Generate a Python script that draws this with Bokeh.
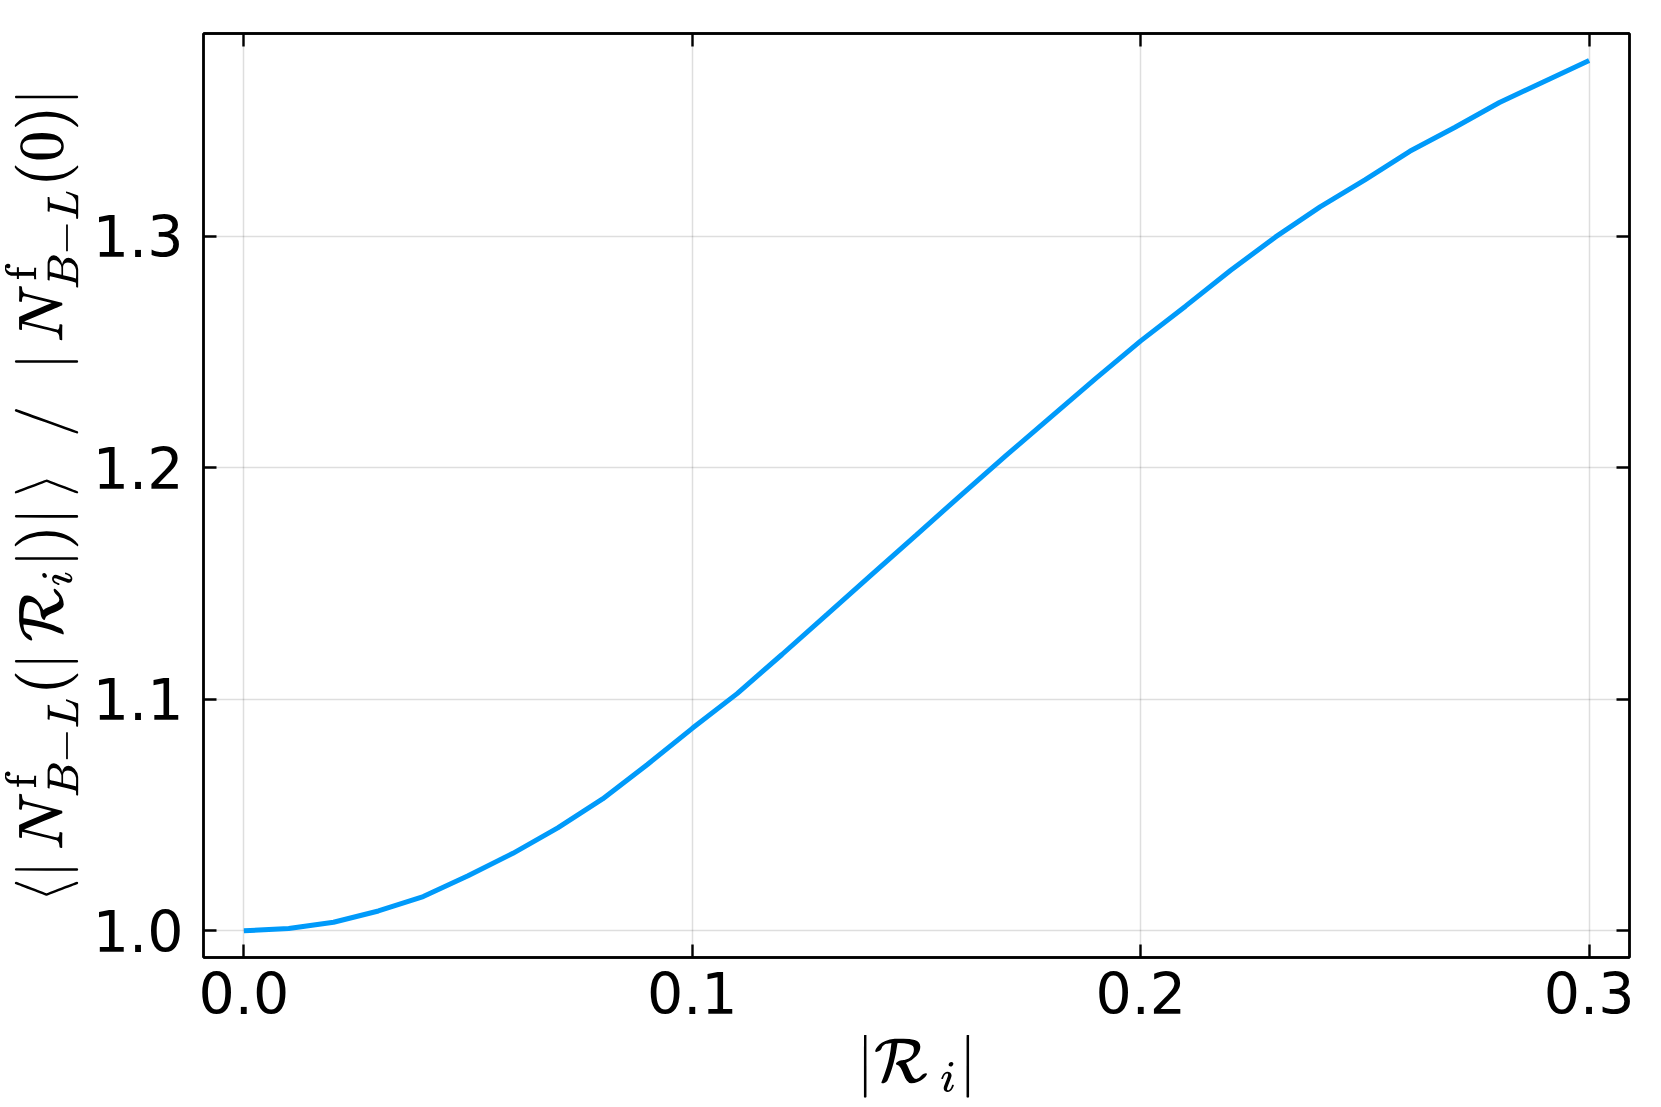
from bokeh.plotting import figure
from bokeh.models import LinearAxis, FixedTicker, CustomJSTickFormatter, NumeralTickFormatter, Range1d
from bokeh.embed import file_html
from bokeh.resources import INLINE

# data
r_abs = [0.00, 0.01, 0.02, 0.03, 0.04, 0.05, 0.06, 0.07, 0.08, 0.09, 0.10,
         0.11, 0.12, 0.13, 0.14, 0.15, 0.16, 0.17, 0.18, 0.19, 0.20,
         0.21, 0.22, 0.23, 0.24, 0.25, 0.26, 0.27, 0.28, 0.29, 0.30]
ratio = [1.0000, 1.0010, 1.0037, 1.0086, 1.0148, 1.0238, 1.0335, 1.0445, 1.0570, 1.0719, 1.0875,
         1.1025, 1.1194, 1.1366, 1.1539, 1.1711, 1.1884, 1.2054, 1.2221, 1.2387, 1.2549,
         1.2699, 1.2853, 1.2997, 1.3128, 1.3245, 1.3368, 1.3471, 1.3579, 1.3670, 1.3760]
x_ticks = [0.0, 0.1, 0.2, 0.3]
y_ticks = [1.0, 1.1, 1.2, 1.3]
x_label = r"$$|\mathcal{R}_{\,i}|$$"
y_label = r"$$\langle |\, N^{\mathrm{f}}_{B-L}(|\, \mathcal{R}_i|)|\, \rangle \;\;/\;\; |\, N^{\mathrm{f}}_{B-L}(0)|$$"

TICK_FONT = "DejaVu Sans"
TICK_SIZE = "57px"

p = figure(frame_width=1426, frame_height=924,
           min_border_left=203, min_border_right=14, min_border_top=33, min_border_bottom=130,
           x_range=Range1d(-0.009, 0.309), y_range=Range1d(0.98849, 1.38770),
           output_backend="svg", toolbar_location=None,
           x_axis_location=None, y_axis_location=None)

p.line(r_abs, ratio, line_color="#009AFA", line_width=5)

def style(ax, labels=True):
    ax.axis_line_color = "black"
    ax.axis_line_width = 2.4
    ax.major_tick_in = 13
    ax.major_tick_out = 0
    ax.major_tick_line_width = 2.4
    ax.major_tick_line_color = "black"
    ax.minor_tick_line_color = None
    ax.major_label_text_font = TICK_FONT
    ax.major_label_text_font_size = TICK_SIZE
    ax.major_label_text_color = "black"
    ax.axis_label_text_color = "black"
    if not labels:
        ax.formatter = CustomJSTickFormatter(code="return ''")
        ax.major_label_text_font_size = "1px"
        ax.major_label_standoff = 0

bottom = LinearAxis(ticker=FixedTicker(ticks=x_ticks), formatter=NumeralTickFormatter(format="0.0"),
                    axis_label=x_label)
style(bottom)
bottom.major_label_standoff = 14
bottom.axis_label_text_font_size = "54px"
bottom.axis_label_standoff = 18
p.add_layout(bottom, "below")

left = LinearAxis(ticker=FixedTicker(ticks=y_ticks), formatter=NumeralTickFormatter(format="0.0"),
                  axis_label=y_label)
style(left)
left.major_label_standoff = 20
left.axis_label_text_font_size = "51px"
left.axis_label_standoff = 8
p.add_layout(left, "left")

top = LinearAxis(ticker=FixedTicker(ticks=x_ticks))
style(top, labels=False)
p.add_layout(top, "above")

right = LinearAxis(ticker=FixedTicker(ticks=y_ticks))
style(right, labels=False)
p.add_layout(right, "right")

p.xgrid.ticker = FixedTicker(ticks=x_ticks)
p.ygrid.ticker = FixedTicker(ticks=y_ticks)
for g in (p.xgrid, p.ygrid):
    g.grid_line_color = "black"
    g.grid_line_alpha = 0.13
    g.grid_line_width = 1.5

p.outline_line_color = "black"
p.outline_line_width = 2.4
p.background_fill_color = "white"
p.border_fill_color = "white"

open("out.html", "w").write(file_html(p, INLINE))
